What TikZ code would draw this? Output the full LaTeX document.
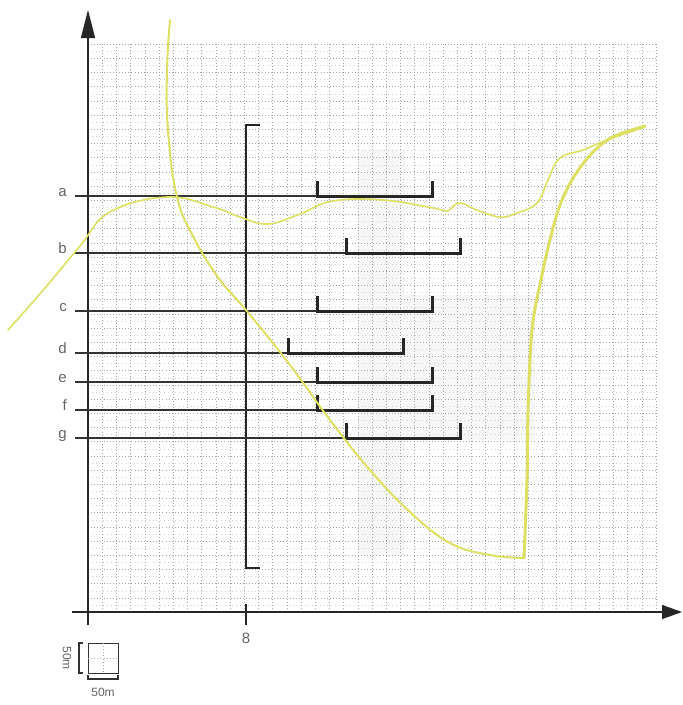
\documentclass[tikz,border=0pt]{standalone}
\usepackage{fontspec}
\setmainfont{Liberation Sans}
\usetikzlibrary{arrows.meta,positioning,calc}
\definecolor{trace}{RGB}{222,224,100}

\begin{document}
\begin{tikzpicture}[
    x=1pt, y=-1pt,
    gridline/.style={gray!70, line width=0.45pt, dash pattern=on 0.9pt off 2.2pt},
    subgrid/.style={gray!35, line width=0.35pt, dash pattern=on 0.6pt off 3.2pt},
    axis/.style={-{Triangle[length=#1, width=14pt]}, line width=1.3pt, black!85},
    level/.style={line width=1.1pt, black!80},
    bracket/.style={line width=3pt, black!85},
    curve/.style={trace, line width=#1, line cap=round, line join=round},
    tag/.style={font=\fontsize{15}{15}\selectfont, text=black!60, inner sep=0pt},
    shade/.style={fill=gray!6, draw=none}
]
\useasboundingbox (0,0) rectangle (683,705);
\fill[white] (0,0) rectangle (683,705);

% shaded zones
\fill[shade] (358,150) rectangle (405,555);
\fill[shade] (405,295) rectangle (535,440);

% grid
\foreach \i in {0,...,39} {
    \draw[subgrid] (88,51.1+\i*14.2) -- (656,51.1+\i*14.2);
}
\foreach \i in {1,...,40} {
    \draw[gridline] (88+\i*14.2,44) -- (88+\i*14.2,612);
    \draw[gridline] (88,612-\i*14.2) -- (656,612-\i*14.2);
}

% axes
\coordinate (O) at (88,612);
\coordinate (ybot) at (88,625);
\coordinate (ytop) at (88,10);
\coordinate (xbeg) at (72,612);
\coordinate (xend) at (682,612);
\draw[axis=28pt] (ybot) -- (ytop);
\draw[axis=20pt] (xbeg) -- (xend);
\coordinate (t8a) at (246,604);
\coordinate (t8b) at (246,625);
\draw[line width=1.3pt, black!85] (t8a) -- (t8b);
\node[tag, below=8pt of t8b] (n8) {8};

% vertical bracket
\coordinate (vtop) at (246,125);
\coordinate (vbot) at (246,568);
\draw[bracket, line width=2pt] ($(vtop)+(14,0)$) -- (vtop) -- (vbot) -- ++(14,0);

% level lines with brackets
\foreach \n/\y/\l/\r in {a/196/317/432, b/253/346/460, c/311/317/432, d/353/288/403,
                         e/382/317/432, f/410/317/432, g/438/346/460} {
    \coordinate (\n s) at (75,\y);
    \coordinate (\n l) at (\l,\y);
    \coordinate (\n r) at (\r,\y);
    \node[tag, anchor=base east] (lab\n) at (67,\y) {\n};
    \draw[level] (\n s) -- (\n l);
    \draw[bracket] ($(\n l)+(0,-15)$) -- (\n l) -- (\n r) -- ++(0,-15);
}

% traces
\draw[curve=2pt] plot[smooth, tension=0.7] coordinates {
    (170,20) (167,70) (168,130) (177,197) (195,240) (220,280)
    (246,310) (290,365) (330,420) (370,470)
    (410,512) (450,543) (490,555) (524,558)};
\draw[curve=3pt] plot[smooth, tension=0.6] coordinates {
    (524,558) (527,480) (528,413) (532,330) (542,275) (550,240) (560,205)
    (575,175) (595,150) (615,136) (645,126)};
\draw[curve=1.6pt] plot[smooth, tension=0.7] coordinates {
    (8,330) (45,288) (80,246) (110,212) (167,197) (213,207) (240,217)
    (268,224) (300,214) (333,201) (383,200) (433,208) (447,211)
    (456,204) (464,204) (477,210) (500,217) (517,213) (537,203) (548,180)
    (560,158) (583,150) (607,140) (645,127)};

% scale box
\coordinate (sb1) at (88,643);
\coordinate (sb2) at (118,673);
\draw[line width=0.8pt, black!80] (sb1) rectangle (sb2);
\draw[gridline] (103,643) -- (103,673);
\draw[gridline] (88,658) -- (118,658);
\draw[line width=1.2pt, black!80] (83,643) -- (79,643) -- (79,673) -- (83,673);
\draw[line width=1.2pt, black!80] (88,675) -- (88,679) -- (118,679) -- (118,675);
\node[tag, font=\fontsize{12}{12}\selectfont, rotate=-90] (sv) at (67,658) {50m};
\node[tag, font=\fontsize{12}{12}\selectfont] (sh) at (103,692) {50m};
\end{tikzpicture}
\end{document}
